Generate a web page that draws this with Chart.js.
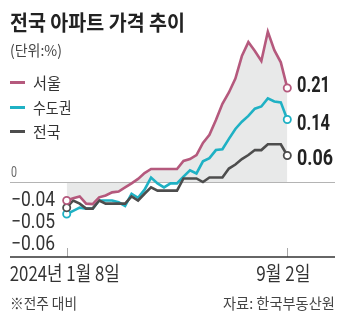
<!DOCTYPE html>
<html>
<head>
<meta charset="utf-8">
<script src="https://cdn.jsdelivr.net/npm/chart.js@4.4.1/dist/chart.umd.min.js"></script>
<style>
  body { margin: 0; background: #fff; }
  #wrap { position: relative; width: 342px; height: 327px; overflow: hidden;
          font-family: "Noto Sans CJK KR", "Noto Sans", sans-serif; color: #333; }
  #chart { position: absolute; left: 0; top: 0; }
  .txt { position: absolute; white-space: nowrap; line-height: 1; transform-origin: 0 50%; }
  .dash { position: absolute; left: 10px; width: 15px; height: 3px; }
  #title { left: 10px; top: 11px; font-size: 21px; font-weight: 700; color: #222; }
  #unit { left: 10px; top: 42px; font-size: 15px; color: #444; }
  .leg { left: 33px; font-size: 16px; color: #333; }
  #note { left: 10px; top: 295px; font-size: 15px; color: #444; }
  #src { right: 7px; top: 295px; font-size: 15px; color: #444; transform-origin: 100% 50%; }
</style>
</head>
<body>
<div id="wrap">
  <canvas id="chart" width="342" height="327"></canvas>
  <div id="title" class="txt">전국 아파트 가격 추이</div>
  <div id="unit" class="txt">(단위:%)</div>
  <div class="dash" style="top:80.5px;background:#b5597d"></div>
  <div id="leg0" class="txt leg" style="top:73.8px">서울</div>
  <div class="dash" style="top:105.5px;background:#1fb1c4"></div>
  <div id="leg1" class="txt leg" style="top:98.8px">수도권</div>
  <div class="dash" style="top:130px;background:#4d4d4d"></div>
  <div id="leg2" class="txt leg" style="top:123.3px">전국</div>
  <div id="note" class="txt">※전주 대비</div>
  <div id="src" class="txt">자료: 한국부동산원</div>
</div>
<script>
// weekly change vs previous week, 2024-01-08 .. 2024-09-02
const weeks = [
  "1/8", "1/15", "1/22", "1/29", "2/5", "2/12", "2/19", "2/26",
  "3/4", "3/11", "3/18", "3/25", "4/1", "4/8", "4/15", "4/22", "4/29",
  "5/6", "5/13", "5/20", "5/27", "6/3", "6/10", "6/17", "6/24",
  "7/1", "7/8", "7/15", "7/22", "7/29", "8/5", "8/12", "8/19", "8/26", "9/2",
];
const seoul = [
  -0.040, -0.035, -0.031, -0.047, -0.048, -0.033, -0.029, -0.022, -0.020,
  -0.011, -0.002, 0.008, 0.021, 0.030, 0.030, 0.030, 0.030, 0.030, 0.048,
  0.052, 0.061, 0.088, 0.106, 0.139, 0.175, 0.200, 0.231, 0.281, 0.312,
  0.292, 0.270, 0.335, 0.294, 0.267, 0.210,
];
const capital = [
  -0.070, -0.063, -0.056, -0.058, -0.058, -0.040, -0.040, -0.040, -0.044,
  -0.052, -0.025, -0.034, -0.016, 0.011, -0.002, -0.011, -0.002, -0.002,
  0.013, 0.027, 0.020, 0.047, 0.054, 0.072, 0.074, 0.097, 0.119, 0.135,
  0.148, 0.164, 0.169, 0.187, 0.180, 0.178, 0.140,
];
const nation = [
  -0.056, -0.040, -0.047, -0.058, -0.058, -0.040, -0.047, -0.047, -0.047,
  -0.047, -0.031, -0.040, -0.025, -0.011, -0.018, -0.018, -0.018, -0.018,
  0.009, 0.009, 0.009, 0.001, 0.011, 0.011, 0.011, 0.031, 0.040, 0.052,
  0.061, 0.072, 0.072, 0.085, 0.085, 0.085, 0.060,
];
const endLabels = ["0.21", "0.14", "0.06"];
const startLabels = ["−0.04", "−0.05", "−0.06"];
const xTickLabels = ["2024년 1월 8일", "9월 2일"];

const PINK = "#b5597d";
const CYAN = "#1fb1c4";
const DARK = "#4d4d4d";
const last = weeks.length - 1;

// squeeze html text to the width it has in the original
function fit(id, w) {
  const el = document.getElementById(id);
  el.style.transform = "scaleX(" + (w / el.getBoundingClientRect().width) + ")";
}
fit("title", 175);
fit("unit", 52);
fit("leg0", 28);
fit("leg1", 38.5);
fit("leg2", 27.5);
fit("note", 67);
fit("src", 112);

function pts(arr) {
  return arr.map((v, i) => ({ x: i, y: v }));
}
const pointR = (c) => (c.dataIndex === 0 || c.dataIndex === last ? 3.6 : 0);

// draw text squeezed to a given width
function narrowText(ctx, text, x, y, w, align) {
  const m = ctx.measureText(text).width;
  ctx.save();
  ctx.translate(x, y);
  ctx.scale(w / m, 1);
  ctx.textAlign = align;
  ctx.fillText(text, 0, 0);
  ctx.restore();
}

const decor = {
  id: "decor",
  beforeDatasetsDraw(chart) {
    const { ctx, chartArea } = chart;
    const x = chart.scales.x;
    const y = chart.scales.y;
    ctx.save();
    // zero line
    const y0 = Math.round(y.getPixelForValue(0)) + 0.5;
    ctx.strokeStyle = "#b4b4b4";
    ctx.lineWidth = 1.2;
    ctx.beginPath();
    ctx.moveTo(chartArea.left, y0);
    ctx.lineTo(chartArea.right, y0);
    ctx.stroke();
    // tick marks at first and last week
    ctx.strokeStyle = "#a8a8a8";
    ctx.lineWidth = 1;
    [0, last].forEach((i) => {
      const px = Math.round(x.getPixelForValue(i)) + 0.5;
      ctx.beginPath();
      ctx.moveTo(px, chartArea.bottom - 9);
      ctx.lineTo(px, chartArea.bottom);
      ctx.stroke();
    });
    // bottom axis
    ctx.strokeStyle = "#333";
    ctx.lineWidth = 1.5;
    ctx.beginPath();
    ctx.moveTo(chartArea.left, chartArea.bottom);
    ctx.lineTo(chartArea.right, chartArea.bottom);
    ctx.stroke();
    ctx.restore();
  },
  afterDatasetsDraw(chart) {
    const { ctx } = chart;
    const x = chart.scales.x;
    const y = chart.scales.y;
    ctx.save();
    ctx.textBaseline = "alphabetic";

    // x tick labels
    ctx.fillStyle = "#333";
    ctx.font = '20px "Noto Sans CJK KR", sans-serif';
    narrowText(ctx, xTickLabels[0], x.getPixelForValue(0) - 2, 281, 110, "center");
    narrowText(ctx, xTickLabels[1], x.getPixelForValue(last) - 4, 281, 54, "center");

    // zero label
    ctx.fillStyle = "#666";
    ctx.font = '14px Roboto, sans-serif';
    narrowText(ctx, "0", 11, y.getPixelForValue(0) - 5, 6, "left");

    // start value labels
    ctx.fillStyle = "#333";
    ctx.font = '20px Roboto, sans-serif';
    const sy = y.getPixelForValue(seoul[0]);
    const startY = [sy - 1.5, sy + 20, sy + 42.5];
    startLabels.forEach((t, i) => {
      narrowText(ctx, t, 11, startY[i] + 7.1, 44, "left");
    });

    // end value labels
    ctx.fillStyle = "#222";
    ctx.font = 'bold 22px Roboto, sans-serif';
    const ends = [seoul[last], capital[last], nation[last]];
    const offs = [-4, 2.5, 2];
    const widths = [33, 33, 36];
    endLabels.forEach((t, i) => {
      const py = y.getPixelForValue(ends[i]) + offs[i];
      narrowText(ctx, t, 297, py + 7.8, widths[i], "left");
    });
    ctx.restore();
  },
};

new Chart(document.getElementById("chart"), {
  type: "line",
  data: {
    labels: weeks,
    datasets: [
      {
        label: "서울",
        data: pts(seoul),
        borderColor: PINK,
        borderWidth: 2.6,
        fill: "origin",
        backgroundColor: "#e8e9e9",
        pointRadius: pointR,
        pointBackgroundColor: "#fff",
        pointBorderColor: PINK,
        pointBorderWidth: 1.8,
      },
      {
        label: "전국",
        data: pts(nation),
        borderColor: DARK,
        borderWidth: 2.6,
        fill: false,
        pointRadius: pointR,
        pointBackgroundColor: "#fff",
        pointBorderColor: DARK,
        pointBorderWidth: 1.8,
      },
      {
        label: "수도권",
        data: pts(capital),
        borderColor: CYAN,
        borderWidth: 2.6,
        fill: false,
        pointRadius: pointR,
        pointBackgroundColor: "#fff",
        pointBorderColor: CYAN,
        pointBorderWidth: 1.8,
      },
    ],
  },
  options: {
    responsive: false,
    animation: false,
    events: [],
    layout: { padding: { left: 10, right: 7, top: 20, bottom: 70 } },
    plugins: {
      legend: { display: false },
      tooltip: { enabled: false },
      filler: { drawTime: "beforeDatasetsDraw" },
    },
    scales: {
      x: { type: "linear", display: false, min: -8.739, max: 41.352 },
      y: { display: false, min: -0.1656, max: 0.3611 },
    },
  },
  plugins: [decor],
});
</script>
</body>
</html>
